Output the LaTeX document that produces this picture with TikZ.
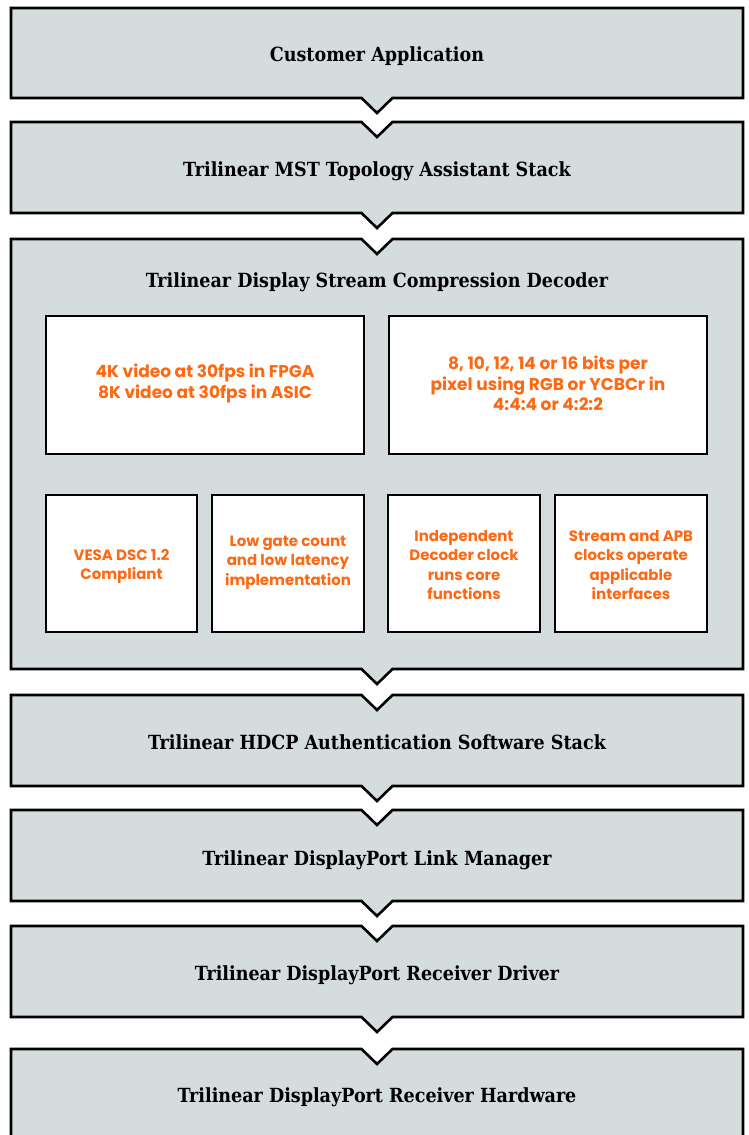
\documentclass[tikz,border=0pt]{standalone}
\usepackage{fontspec}
\newfontfamily\titlefont{DejaVu Serif Condensed}
\newfontfamily\bodyfont{Poppins}
\definecolor{panel}{RGB}{213,220,222}
\definecolor{accent}{RGB}{255,104,18}
\tikzset{
  layer/.style={draw=black, fill=panel, line width=2.6pt, line join=miter},
  cell/.style={draw=black, fill=white, line width=2.8pt},
  title/.style={font=\titlefont\bfseries\fontsize{19.5}{22}\selectfont, text=black, inner sep=0pt, anchor=base},
  info/.style={font=\bodyfont\bfseries\fontsize{17}{20.5}\selectfont, text=accent, align=center, inner sep=0pt},
  infosmall/.style={font=\bodyfont\bfseries\fontsize{15}{19.4}\selectfont, text=accent, align=center, inner sep=0pt}
}
\newcommand{\vl}{361.5}
\newcommand{\vr}{392.5}
\begin{document}
\begin{tikzpicture}[x=1pt,y=-1pt]
\useasboundingbox (0,0) rectangle (749,1135);
\begin{scope}
\clip (0,0) rectangle (749,1135);
% box 1
\draw[layer] (11,8) -- (743,8) -- (743,98) -- (\vr,98) -- (377,113) -- (\vl,98) -- (11,98) -- cycle;
% box 2
\draw[layer] (11,122) -- (\vl,122) -- (377,137) -- (\vr,122) -- (743,122) -- (743,213) -- (\vr,213) -- (377,228) -- (\vl,213) -- (11,213) -- cycle;
% box 3
\draw[layer] (11,239) -- (\vl,239) -- (377,254) -- (\vr,239) -- (743,239) -- (743,669) -- (\vr,669) -- (377,684) -- (\vl,669) -- (11,669) -- cycle;
% box 4
\draw[layer] (11,695) -- (\vl,695) -- (377,710) -- (\vr,695) -- (743,695) -- (743,786) -- (\vr,786) -- (377,801) -- (\vl,786) -- (11,786) -- cycle;
% box 5
\draw[layer] (11,810) -- (\vl,810) -- (377,825) -- (\vr,810) -- (743,810) -- (743,901) -- (\vr,901) -- (377,916) -- (\vl,901) -- (11,901) -- cycle;
% box 6
\draw[layer] (11,926) -- (\vl,926) -- (377,941) -- (\vr,926) -- (743,926) -- (743,1017) -- (\vr,1017) -- (377,1032) -- (\vl,1017) -- (11,1017) -- cycle;
% box 7
\draw[layer] (11,1049) -- (\vl,1049) -- (377,1064) -- (\vr,1049) -- (743,1049) -- (743,1141) -- (11,1141) -- cycle;
\end{scope}

\node[title] (t1) at (377,61) {Customer Application};
\node[title] (t2) at (377,176) {Trilinear MST Topology Assistant Stack};
\node[title] (t3) at (377,287) {Trilinear Display Stream Compression Decoder};
\node[title] (t4) at (377,749) {Trilinear HDCP Authentication Software Stack};
\node[title] (t5) at (377,865) {Trilinear DisplayPort Link Manager};
\node[title] (t6) at (377,980) {Trilinear DisplayPort Receiver Driver};
\node[title] (t7) at (377,1102) {Trilinear DisplayPort Receiver Hardware};

% inner cells
\draw[cell] (46,316) rectangle (364,454);
\draw[cell] (389,316) rectangle (707,454);
\draw[cell] (46,495) rectangle (197,632);
\draw[cell] (212,495) rectangle (364,632);
\draw[cell] (388,495) rectangle (540,632);
\draw[cell] (555,495) rectangle (707,632);

\node[info] (a) at (205,383.5) {4K video at 30fps in FPGA\\8K video at 30fps in ASIC};
\node[info] (b) at (548,383.5) {8, 10, 12, 14 or 16 bits per\\pixel using RGB or YCBCr in\\4:4:4 or 4:2:2};
\node[infosmall] (c) at (121.5,566.5) {VESA DSC 1.2\\Compliant};
\node[infosmall] (d) at (288,562.5) {Low gate count\\and low latency\\implementation};
\node[infosmall] (e) at (464,565) {Independent\\Decoder clock\\runs core\\functions};
\node[infosmall] (f) at (631,565) {Stream and APB\\clocks operate\\applicable\\interfaces};
\end{tikzpicture}
\end{document}
